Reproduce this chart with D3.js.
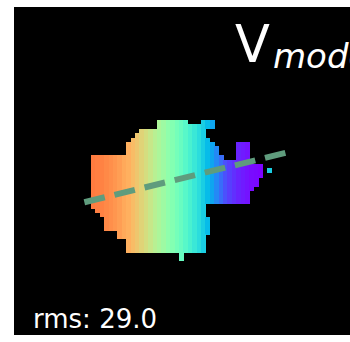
<!DOCTYPE html>
<html>
<head>
<meta charset="utf-8">
<script src="https://cdn.jsdelivr.net/npm/d3@7"></script>
<style>
  html, body { margin: 0; padding: 0; background: #fff; }
  svg { display: block; }
</style>
</head>
<body>
<div id="chart"></div>
<script>
// model velocity map, one value per pixel column (km/s)
const columnVelocity = [
  102, 100,  99,  96,  93,  90,  86,  81,  77,  71,
   65,  57,  50,  42,  33,  26,  18,   9,   2,  -6,
  -14, -23, -32, -41, -50, -60, -71, -83, -96,-108,
 -119,-126,-132,-137,-140,-143,-146,-147,-149,-150
];

// mask: for each pixel row, the [start, end) column spans that hold data
const rowSpans = [
  [[15, 22], [25, 28]],
  [[15, 28]],
  [[11, 26]],
  [[10, 26]],
  [[9, 27]],
  [[8, 28], [33, 36]],
  [[8, 29], [33, 36]],
  [[8, 29], [33, 36]],
  [[0, 30], [33, 36]],
  [[0, 36]],
  [[0, 39]],
  [[0, 39]],
  [[0, 39]],
  [[0, 38]],
  [[0, 38]],
  [[0, 37]],
  [[0, 36]],
  [[0, 36]],
  [[0, 36]],
  [[0, 26]],
  [[1, 26]],
  [[2, 26]],
  [[3, 27]],
  [[3, 27]],
  [[3, 27]],
  [[6, 27]],
  [[6, 26]],
  [[8, 26]],
  [[8, 26]],
  [[8, 26]],
  [[20, 21]],
  [[20, 21]]
];

// stray pixels that do not follow the column pattern: [col, row, velocity]
const strayPixels = [[40, 11, -60]];

// kinematic position angle line (pixel units)
const paCenter = [21.7, 13.0];
const paAngleDeg = 13.8;
const paHalfLength = 23.9;

const colorDomain = [-150, 150];
const titleMain = "V";
const titleSub = "model";
const rmsLabel = "rms: 29.0";

const W = 350, H = 342;
const nCols = 41, nRows = 32;

const svg = d3.select("#chart").append("svg")
    .attr("width", W)
    .attr("height", H);

svg.append("rect")
    .attr("x", 14).attr("y", 7)
    .attr("width", W - 14).attr("height", 328)
    .attr("fill", "#000");

const x = d3.scaleLinear().domain([0, nCols]).range([91, 91 + nCols * 4.4]);
const y = d3.scaleLinear().domain([0, nRows]).range([120, 120 + nRows * 4.4]);

// matplotlib "rainbow" colormap
function rainbow(t) {
    const c = v => Math.max(0, Math.min(1, v));
    const r = c(Math.abs(2 * t - 0.5));
    const g = c(Math.sin(Math.PI * t));
    const b = c(Math.cos(Math.PI * t / 2));
    return d3.rgb(r * 255, g * 255, b * 255).formatHex();
}
const color = d3.scaleSequential(rainbow).domain(colorDomain);

const cells = [];
rowSpans.forEach((spans, row) => {
    spans.forEach(([a, b]) => {
        for (let col = a; col < b; col++) {
            cells.push({col, row, v: columnVelocity[col]});
        }
    });
});
strayPixels.forEach(([col, row, v]) => cells.push({col, row, v}));

const cw = x(1) - x(0), ch = y(1) - y(0);

svg.append("g")
    .attr("shape-rendering", "crispEdges")
    .selectAll("rect")
    .data(cells)
    .enter().append("rect")
    .attr("x", d => x(d.col))
    .attr("y", d => y(d.row))
    .attr("width", cw + 0.6)
    .attr("height", ch + 0.6)
    .attr("fill", d => color(d.v));

// PA line
const ang = paAngleDeg * Math.PI / 180;
const paEnds = [-1, 1].map(s => [
    paCenter[0] + s * paHalfLength * Math.cos(ang),
    paCenter[1] - s * paHalfLength * Math.sin(ang)
]);

svg.append("path")
    .attr("d", d3.line().x(d => x(d[0])).y(d => y(d[1]))(paEnds))
    .attr("stroke", "#5f9c7d")
    .attr("stroke-width", 6)
    .attr("stroke-dasharray", "21,10")
    .attr("fill", "none");

// title (runs past the right edge, as in the original panel)
const title = svg.append("text")
    .attr("x", 235)
    .attr("y", 62)
    .attr("fill", "#fff")
    .attr("font-family", "'DejaVu Sans', sans-serif");
title.append("tspan")
    .attr("font-size", 51)
    .text(titleMain);
title.append("tspan")
    .attr("x", 273)
    .attr("y", 68)
    .attr("font-size", 34)
    .attr("font-style", "italic")
    .text(titleSub);

svg.append("text")
    .attr("x", 33)
    .attr("y", 328)
    .attr("fill", "#fff")
    .attr("font-size", 26)
    .attr("font-family", "'DejaVu Sans', sans-serif")
    .text(rmsLabel);
</script>
</body>
</html>
